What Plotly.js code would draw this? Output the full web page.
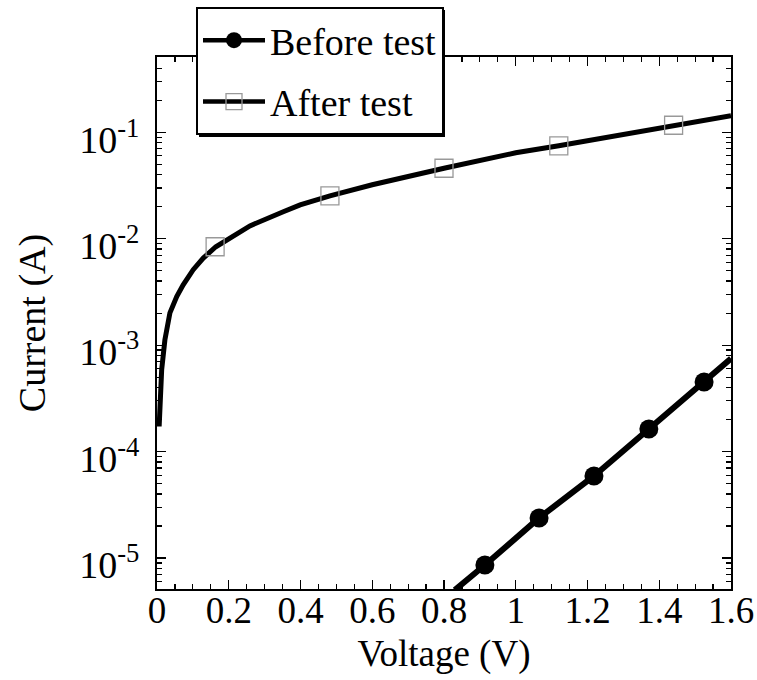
<!DOCTYPE html>
<html>
<head>
<meta charset="utf-8">
<script src="https://cdn.plot.ly/plotly-3.0.1.min.js"></script>
<style>html,body{margin:0;padding:0;background:#fff;}#chart{width:757px;height:680px;}</style>
</head>
<body>
<div id="chart"></div>
<script>
// Before test: line and markers
var beforeLineV = [0.83, 0.914, 1.065, 1.218, 1.371, 1.525, 1.60];
var beforeLineI = [5.0e-6, 8.6e-6, 2.38e-5, 5.9e-5, 1.63e-4, 4.5e-4, 7.5e-4];
var beforeMarkV = [0.914, 1.065, 1.218, 1.371, 1.525];
var beforeMarkI = [8.6e-6, 2.38e-5, 5.9e-5, 1.63e-4, 4.5e-4];

// After test: dense curve and open-square markers
var afterLineV = [0.006, 0.013, 0.022, 0.036, 0.055, 0.073, 0.101, 0.129, 0.164, 0.259, 0.352, 0.399, 0.482, 0.6, 0.8, 1.0, 1.12, 1.2, 1.4, 1.6];
var afterLineI = [1.72e-4, 5.86e-4, 1.12e-3, 2.01e-3, 2.86e-3, 3.69e-3, 5.11e-3, 6.58e-3, 8.40e-3, 1.32e-2, 1.79e-2, 2.08e-2, 2.53e-2, 3.21e-2, 4.59e-2, 6.41e-2, 7.46e-2, 8.32e-2, 0.110, 0.143];
var afterMarkV = [0.162, 0.482, 0.80, 1.12, 1.44];
var afterMarkI = [8.4e-3, 2.53e-2, 4.59e-2, 7.46e-2, 0.1164];

var seriesNames = ["Before test", "After test"];
var yTickVals = [1e-5, 1e-4, 1e-3, 1e-2, 1e-1];
var yTickText = ["10<sup>-5</sup>", "10<sup>-4</sup>", "10<sup>-3</sup>", "10<sup>-2</sup>", "10<sup>-1</sup>"];
var xTickVals = [0, 0.2, 0.4, 0.6, 0.8, 1.0, 1.2, 1.4, 1.6];
var xTickText = ["0", "0.2", "0.4", "0.6", "0.8", "1", "1.2", "1.4", "1.6"];

var yMinor = [];
for (var d = -6; d <= 0; d++) { for (var k = 2; k <= 9; k++) { yMinor.push(k * Math.pow(10, d)); } }

var FONT = "Liberation Serif, Times New Roman, serif";

var traces = [
  {x: afterLineV, y: afterLineI, mode: "lines", line: {color: "#000", width: 5}, showlegend: false},
  {x: afterMarkV, y: afterMarkI, mode: "markers", marker: {symbol: "square-open", size: 18, color: "#999", line: {width: 1.3, color: "#999"}}, showlegend: false},
  {x: beforeLineV, y: beforeLineI, mode: "lines", line: {color: "#000", width: 6}, showlegend: false},
  {x: beforeMarkV, y: beforeMarkI, mode: "markers", marker: {symbol: "circle", size: 19, color: "#000"}, showlegend: false},
  {x: [null], y: [null], name: seriesNames[0], mode: "lines+markers", line: {color: "#000", width: 4.5}, marker: {symbol: "circle", size: 16, color: "#000"}, legendgroup: "a"},
  {x: [null], y: [null], name: seriesNames[1], mode: "lines+markers", line: {color: "#000", width: 4.5}, marker: {symbol: "square-open", size: 17, color: "#999", line: {width: 1.3, color: "#999"}}, legendgroup: "b"}
];

// plot frame: x 157..731, y 57..589 (right margin 0, x domain trimmed so the legend push pad is 0)
var W = 757, H = 680, L = 157, T = 57, B = 91;
var PW = W - L;
var PH = H - T - B;
var FRAME_R = 731;
function px2x(p) { return (p - L) / PW; }
function py2y(p) { return (H - B - p) / PH; }

// legend drop shadow box (pixels), 3 px right/down of the legend box
var SH = {x0: 199, x1: 445, y0: 10, y1: 137};
var shadowSvg = "data:image/svg+xml;utf8," + encodeURIComponent(
  '<svg xmlns="http://www.w3.org/2000/svg" width="10" height="10" viewBox="0 0 10 10" preserveAspectRatio="none"><rect x="0" y="0" width="10" height="10" fill="#000"/></svg>');

var layout = {
  width: W, height: H,
  margin: {l: L, r: 0, t: T, b: B, pad: 0},
  paper_bgcolor: "#fff", plot_bgcolor: "#fff",
  font: {family: FONT, color: "#000", size: 37},
  showlegend: true,
  legend: {
    x: px2x(196), y: py2y(7), xanchor: "left", yanchor: "top",
    bgcolor: "#fff", bordercolor: "#000", borderwidth: 2,
    font: {family: FONT, size: 38, color: "#000"},
    itemwidth: 62, traceorder: "grouped", tracegroupgap: 9
  },
  xaxis: {
    domain: [0, (FRAME_R - L) / PW],
    range: [0, 1.6], tickmode: "array", tickvals: xTickVals, ticktext: xTickText,
    ticks: "inside", ticklen: 9, tickwidth: 1.2, tickcolor: "#000",
    minor: {dtick: 0.05, ticks: "inside", ticklen: 5, tickwidth: 1.2, tickcolor: "#000"},
    showline: true, linewidth: 2, linecolor: "#000", mirror: "allticks",
    showgrid: false, zeroline: false, ticklabelstandoff: -12,
    tickfont: {family: FONT, size: 37},
    title: {text: "Voltage (V)", font: {family: FONT, size: 37}, standoff: 10}
  },
  yaxis: {
    type: "log", range: [-5.291, -0.293],
    tickmode: "array", tickvals: yTickVals, ticktext: yTickText,
    ticks: "inside", ticklen: 9, tickwidth: 1.2, tickcolor: "#000",
    minor: {tickmode: "array", tickvals: yMinor, ticks: "inside", ticklen: 5, tickwidth: 1.2, tickcolor: "#000"},
    showline: true, linewidth: 2, linecolor: "#000", mirror: "allticks",
    showgrid: false, zeroline: false, ticklabelstandoff: 8, ticklabelshift: 7,
    tickfont: {family: FONT, size: 38},
    title: {text: "Current (A)", font: {family: FONT, size: 38}, standoff: 22}
  },
  shapes: [
    {type: "rect", xref: "paper", yref: "paper",
     x0: px2x(SH.x0), x1: px2x(SH.x1), y0: py2y(SH.y1), y1: py2y(SH.y0),
     fillcolor: "#000", line: {width: 0}, layer: "above"}
  ],
  images: [
    {source: shadowSvg, xref: "paper", yref: "paper",
     x: px2x(SH.x0), y: py2y(SH.y0), sizex: (SH.x1 - SH.x0) / PW, sizey: (SH.y1 - SH.y0) / PH,
     xanchor: "left", yanchor: "top", sizing: "stretch", layer: "above", opacity: 1}
  ]
};

Plotly.newPlot("chart", traces, layout, {staticPlot: true});
</script>
</body>
</html>
